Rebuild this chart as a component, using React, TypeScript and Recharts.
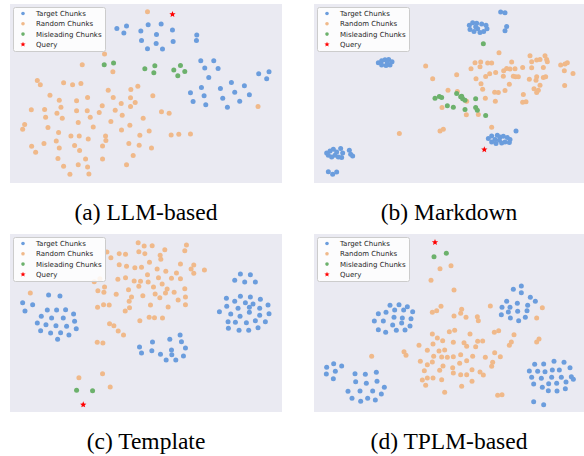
import React from 'react';
import { ScatterChart, Scatter, XAxis, YAxis } from 'recharts';

type Pt = [number, number];

// Embedding coordinates per panel (t-SNE style, arbitrary units)
const aTarget: Pt[] = [
  [326, 85], [355, 78], [347, 99], [420, 74], [459, 72], [398, 93], [445, 103], [493, 90],
  [400, 121], [444, 130], [495, 124], [418, 146], [463, 147], [566, 105], [565, 121],
  [578, 182], [617, 182], [590, 204], [630, 205], [602, 232], [752, 221], [783, 215], [776, 236],
  [547, 278], [580, 262], [637, 265], [670, 247], [709, 257], [680, 276], [724, 284], [555, 304],
  [588, 287], [644, 294], [593, 314], [658, 321], [695, 303],
];
const aRandom: Pt[] = [
  [418, 35], [289, 162], [222, 194], [314, 215], [87, 241], [96, 254], [166, 248], [193, 254],
  [218, 250], [300, 270], [368, 268], [389, 258], [125, 285], [238, 292], [315, 292], [367, 293],
  [434, 287], [153, 300], [205, 302], [339, 310], [381, 307], [69, 329], [109, 328], [158, 321],
  [282, 317], [367, 319], [205, 332], [237, 332], [273, 337], [321, 330], [146, 339], [112, 351],
  [162, 354], [246, 351], [342, 345], [405, 354], [460, 335], [483, 339], [210, 367], [308, 364],
  [49, 373], [43, 387], [119, 382], [255, 380], [365, 375], [340, 389], [423, 392], [151, 397],
  [188, 407], [213, 407], [292, 407], [395, 405], [489, 404], [512, 402], [547, 401], [240, 416],
  [144, 422], [293, 421], [107, 430], [70, 438], [199, 436], [153, 443], [283, 437], [362, 430],
  [393, 435], [430, 443], [82, 456], [214, 451], [375, 466], [149, 475], [232, 476], [283, 476],
  [166, 498], [210, 493], [238, 500], [355, 493], [185, 522], [242, 521], [750, 319],
];
const aMisleading: Pt[] = [
  [288, 194], [316, 189], [410, 206], [440, 197], [437, 218], [497, 210], [517, 196], [530, 214], [509, 227],
];
const aQuery: Pt[] = [[493, 43]];

const bTarget: Pt[] = [
  [478, 76], [488, 68], [500, 70], [480, 88], [492, 94], [503, 86], [515, 72], [528, 76],
  [521, 94], [531, 86], [510, 97], [497, 80], [572, 36], [585, 38], [590, 79], [585, 92],
  [205, 188], [215, 182], [225, 179], [236, 178], [246, 185], [240, 195], [228, 196], [215, 195], [232, 187],
  [50, 458], [60, 452], [70, 447], [80, 455], [75, 465], [65, 470], [55, 465], [92, 445], [98, 458],
  [95, 472], [118, 450], [122, 462], [128, 467], [85, 470], [55, 514], [68, 522], [80, 515],
  [535, 415], [545, 407], [555, 418], [562, 405], [570, 410], [580, 408], [592, 412], [600, 418],
  [585, 425], [575, 428], [558, 430], [545, 425], [568, 420], [598, 427], [618, 392],
];
const bRandom: Pt[] = [
  [567, 158], [660, 167], [705, 167], [680, 180], [690, 178], [712, 185], [710, 178], [495, 188],
  [512, 186], [533, 189], [545, 189], [605, 186], [665, 185], [347, 198], [510, 200], [483, 206],
  [581, 212], [590, 205], [600, 207], [615, 206], [638, 202], [665, 203], [700, 202], [752, 195],
  [765, 192], [772, 188], [763, 212], [789, 220], [440, 224], [498, 236], [527, 229], [539, 221],
  [557, 217], [580, 228], [610, 228], [617, 230], [625, 230], [658, 237], [680, 230], [678, 240],
  [700, 232], [707, 230], [368, 236], [513, 251], [598, 252], [690, 255], [672, 266], [685, 270],
  [680, 277], [764, 256], [414, 270], [442, 274], [518, 267], [554, 276], [565, 277], [585, 271],
  [640, 283], [470, 303], [526, 294], [556, 303], [638, 306], [648, 305], [396, 322], [469, 344],
  [505, 343], [545, 381], [400, 387], [390, 392], [268, 400],
];
const bMisleading: Pt[] = [
  [520, 131], [375, 294], [388, 289], [395, 292], [412, 317], [430, 321], [440, 280], [452, 290],
  [458, 296], [465, 300], [455, 288], [497, 296], [465, 328], [497, 322], [502, 330], [527, 346],
];
const bQuery: Pt[] = [[523, 448]];

const cTarget: Pt[] = [
  [43, 224], [50, 249], [73, 230], [121, 201], [155, 204], [117, 246], [145, 246], [172, 245],
  [196, 258], [99, 265], [130, 270], [165, 270], [199, 280], [87, 285], [113, 290], [143, 293],
  [175, 295], [204, 302], [97, 308], [127, 315], [157, 314], [182, 321], [148, 334],
  [680, 157], [697, 138], [727, 140], [710, 162], [742, 162], [655, 211], [680, 220], [697, 205],
  [712, 224], [727, 207], [757, 214], [735, 228], [780, 231], [656, 235], [690, 241], [724, 238],
  [755, 241], [634, 251], [668, 258], [696, 265], [724, 253], [755, 262], [783, 257], [660, 281],
  [682, 283], [715, 284], [742, 278], [772, 281], [661, 301], [693, 307], [722, 307], [750, 299],
  [485, 334], [516, 321], [433, 342], [520, 341], [394, 357], [431, 368], [490, 366], [532, 360],
  [400, 375], [457, 379], [491, 380], [526, 384], [474, 396], [503, 396],
];
const cRandom: Pt[] = [
  [390, 44], [408, 54], [432, 53], [535, 51], [296, 72], [333, 77], [352, 79], [470, 65],
  [530, 68], [392, 71], [410, 77], [456, 82], [308, 89], [458, 94], [424, 103], [517, 108],
  [557, 111], [333, 110], [355, 115], [380, 119], [400, 118], [447, 123], [473, 130], [505, 135],
  [549, 123], [589, 126], [557, 136], [418, 140], [329, 154], [352, 149], [378, 159], [397, 160],
  [420, 162], [451, 149], [490, 151], [517, 152], [275, 152], [258, 161], [392, 175], [436, 177],
  [462, 168], [530, 182], [289, 177], [361, 185], [477, 183], [269, 188], [287, 193], [324, 199],
  [370, 207], [404, 203], [441, 198], [455, 209], [472, 195], [498, 193], [510, 216], [532, 207],
  [66, 195], [363, 220], [268, 238], [286, 230], [303, 231], [351, 249], [364, 239], [427, 231],
  [480, 237], [532, 230], [395, 278], [423, 268], [439, 269], [463, 270], [304, 287], [317, 293],
  [330, 309], [346, 321], [267, 343], [284, 345], [212, 449], [283, 437], [306, 477],
];
const cMisleading: Pt[] = [[205, 487], [253, 488]];
const cQuery: Pt[] = [[225, 530]];

const dTarget: Pt[] = [
  [240, 232], [267, 230], [292, 236], [205, 257], [228, 253], [254, 246], [281, 246], [308, 251],
  [193, 279], [220, 279], [252, 268], [277, 270], [303, 272], [248, 291], [275, 285], [300, 294],
  [205, 305], [227, 313], [259, 307], [285, 306],
  [610, 184], [634, 174], [634, 194], [661, 208], [676, 220], [590, 220], [622, 226], [653, 232],
  [576, 238], [600, 238], [651, 248], [595, 252], [623, 250], [574, 260], [601, 270], [626, 278], [646, 268],
  [50, 418], [71, 407], [95, 414], [49, 438], [76, 430], [70, 452], [135, 437], [166, 439],
  [199, 433], [137, 461], [169, 466], [201, 460], [223, 478], [114, 490], [150, 489], [188, 489],
  [214, 498], [126, 511], [152, 520], [173, 511], [196, 516],
  [732, 400], [674, 409], [701, 408], [762, 403], [658, 429], [683, 430], [705, 431], [727, 426],
  [748, 426], [780, 419], [665, 448], [694, 451], [725, 448], [754, 448], [784, 446], [671, 468],
  [697, 478], [716, 467], [740, 466], [768, 462], [790, 454], [715, 488], [741, 489], [766, 482],
  [671, 521], [701, 530],
];
const dRandom: Pt[] = [
  [390, 122], [423, 113], [363, 157], [432, 186], [367, 253], [380, 248], [393, 235], [432, 264],
  [455, 244], [452, 256], [468, 268], [502, 266], [505, 278], [541, 234], [697, 239], [680, 270],
  [553, 313], [566, 308], [612, 320], [598, 352], [604, 342], [680, 342], [687, 333], [367, 318],
  [382, 330], [398, 338], [418, 311], [434, 307], [480, 318], [327, 352], [369, 348], [404, 366],
  [430, 343], [462, 344], [470, 355], [497, 356], [503, 340], [518, 339], [352, 367], [387, 369],
  [371, 385], [395, 387], [412, 388], [430, 386], [452, 380], [488, 385], [526, 388], [554, 374],
  [571, 386], [185, 385], [282, 371], [288, 382], [331, 400], [367, 402], [399, 414], [428, 419],
  [449, 406], [470, 398], [352, 410], [343, 428], [389, 427], [430, 435], [452, 440], [470, 440],
  [486, 425], [510, 432], [520, 441], [548, 403], [545, 415], [337, 456], [352, 450], [369, 450],
  [395, 455], [455, 475], [486, 460], [347, 472], [404, 493], [563, 502], [576, 500],
];
const dMisleading: Pt[] = [[372, 86], [409, 76]];
const dQuery: Pt[] = [[375, 43]];

const legendLabels = ['Target Chunks', 'Random Chunks', 'Misleading Chunks', 'Query'];
const captions = ['(a) LLM-based', '(b) Markdown', '(c) Template', '(d) TPLM-based'];

const BLUE = '#6b9ddd';
const ORANGE = '#f0b98a';
const GREEN = '#6cb16c';
const RED = '#ff0000';
const BG = '#eaeaf2';

const toXY = (pts: Pt[]) => pts.map(([x, y]) => ({ x, y }));

function starPath(cx: number, cy: number, R: number) {
  const r = R * 0.45;
  let d = '';
  for (let i = 0; i < 10; i++) {
    const rad = i % 2 === 0 ? R : r;
    const a = -Math.PI / 2 + (i * Math.PI) / 5;
    d += (i === 0 ? 'M' : 'L') + (cx + rad * Math.cos(a)).toFixed(2) + ',' + (cy + rad * Math.sin(a)).toFixed(2);
  }
  return d + 'Z';
}

const dot = (color: string) => (p: any) => <circle cx={p.cx} cy={p.cy} r={2.5} fill={color} />;
const star = (p: any) => <path d={starPath(p.cx, p.cy, 3.3)} fill={RED} />;

function LegendBox() {
  const colors = [BLUE, ORANGE, GREEN];
  return (
    <svg width={94} height={46} style={{ position: 'absolute', left: 3, top: 3 }}>
      <rect x={0.5} y={0.5} width={92} height={44} rx={2} fill="rgba(255,255,255,0.85)" stroke="#cccccc" />
      {legendLabels.map((label, i) => {
        const cy = 6.5 + i * 10.3;
        return (
          <g key={label}>
            {i < 3 ? <circle cx={10} cy={cy} r={1.8} fill={colors[i]} /> : <path d={starPath(10, cy, 2.7)} fill={RED} />}
            <text x={23} y={cy + 2.5} fontFamily="DejaVu Sans" fontSize={7} fill="#262626">
              {label}
            </text>
          </g>
        );
      })}
    </svg>
  );
}

type PanelProps = {
  left: number; top: number; w: number; h: number;
  xd: [number, number]; yd: [number, number];
  target: Pt[]; random: Pt[]; misleading: Pt[]; query: Pt[];
};

function Panel({ left, top, w, h, xd, yd, target, random, misleading, query }: PanelProps) {
  return (
    <div style={{ position: 'absolute', left, top, width: w, height: h, background: BG }}>
      <ScatterChart width={w} height={h} margin={{ top: 0, right: 0, bottom: 0, left: 0 }}>
        <XAxis type="number" dataKey="x" domain={xd} allowDataOverflow hide />
        <YAxis type="number" dataKey="y" domain={yd} allowDataOverflow reversed hide />
        <Scatter data={toXY(target)} shape={dot(BLUE)} isAnimationActive={false} />
        <Scatter data={toXY(random)} shape={dot(ORANGE)} isAnimationActive={false} />
        <Scatter data={toXY(misleading)} shape={dot(GREEN)} isAnimationActive={false} />
        <Scatter data={toXY(query)} shape={star} isAnimationActive={false} />
      </ScatterChart>
      <LegendBox />
    </div>
  );
}

export default function App() {
  return (
    <div style={{ position: 'absolute', left: 0, top: 0, width: 584, height: 456, background: '#fff' }}>
      <Panel left={10} top={4} w={272} h={179} xd={[5, 822]} yd={[12, 548]}
        target={aTarget} random={aRandom} misleading={aMisleading} query={aQuery} />
      <Panel left={314} top={4} w={270} h={179} xd={[12, 822]} yd={[12, 548]}
        target={bTarget} random={bRandom} misleading={bMisleading} query={bQuery} />
      <Panel left={10} top={234} w={272} h={178} xd={[5, 822]} yd={[18, 552]}
        target={cTarget} random={cRandom} misleading={cMisleading} query={cQuery} />
      <Panel left={314} top={234} w={270} h={178} xd={[12, 822]} yd={[18, 552]}
        target={dTarget} random={dRandom} misleading={dMisleading} query={dQuery} />
      <svg width={584} height={456} style={{ position: 'absolute', left: 0, top: 0, pointerEvents: 'none' }}>
        {captions.map((c, i) => (
          <text key={c} x={i % 2 === 0 ? 146 : 449} y={i < 2 ? 220 : 449} textAnchor="middle"
            fontFamily="Liberation Serif" fontSize={23.5} fill="#000">
            {c}
          </text>
        ))}
      </svg>
    </div>
  );
}
